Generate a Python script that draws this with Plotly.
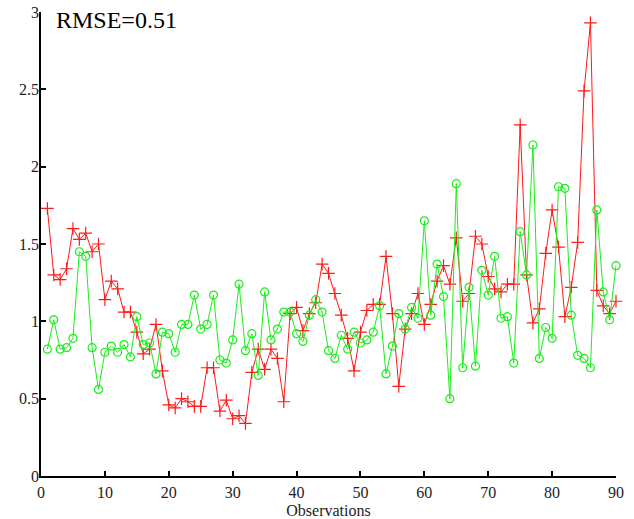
import plotly.graph_objects as go

observations = list(range(1, 91))

actual = [
    1.73, 1.30, 1.27, 1.34, 1.60, 1.53, 1.57, 1.45, 1.50, 1.14,
    1.26, 1.21, 1.06, 1.06, 0.93, 0.79, 0.82, 0.98, 0.68, 0.46,
    0.44, 0.50, 0.48, 0.45, 0.45, 0.70, 0.70, 0.42, 0.49, 0.37,
    0.39, 0.34, 0.67, 0.82, 0.69, 0.82, 0.76, 0.48, 1.05, 1.09,
    0.94, 1.05, 1.12, 1.37, 1.31, 1.18, 1.04, 0.89, 0.68, 0.93,
    1.07, 1.11, 1.11, 1.42, 1.05, 0.58, 0.95, 1.05, 1.18, 0.98,
    1.11, 1.26, 1.36, 1.24, 1.54, 1.13, 1.18, 1.55, 1.50, 1.29,
    1.21, 1.19, 1.24, 1.24, 2.27, 1.30, 0.99, 1.08, 1.44, 1.72,
    1.48, 1.03, 1.22, 1.51, 2.49, 2.93, 1.20, 1.10, 1.05, 1.13,
]

predicted = [
    0.82, 1.01, 0.82, 0.83, 0.89, 1.45, 1.42, 0.83, 0.56, 0.80,
    0.84, 0.80, 0.85, 0.77, 1.03, 0.85, 0.86, 0.66, 0.93, 0.92,
    0.80, 0.98, 0.98, 1.17, 0.95, 0.98, 1.17, 0.75, 0.73, 0.88,
    1.24, 0.81, 0.92, 0.65, 1.19, 0.88, 0.95, 1.06, 1.06, 0.92,
    0.87, 1.04, 1.14, 1.06, 0.81, 0.76, 0.91, 0.82, 0.93, 0.86,
    0.88, 0.93, 1.10, 0.66, 0.84, 1.05, 0.95, 1.09, 1.02, 1.65,
    1.04, 1.37, 1.16, 0.50, 1.89, 0.70, 1.22, 0.71, 1.33, 1.17,
    1.42, 1.02, 1.03, 0.73, 1.58, 1.30, 2.14, 0.76, 0.96, 0.89,
    1.87, 1.86, 1.04, 0.78, 0.76, 0.70, 1.72, 1.19, 1.01, 1.36,
]

x_ticks = [0, 10, 20, 30, 40, 50, 60, 70, 80, 90]
y_ticks = [0, 0.5, 1, 1.5, 2, 2.5, 3]
y_tick_labels = ["0", "0.5", "1", "1.5", "2", "2.5", "3"]
x_title = "Observations"
rmse_label = "RMSE=0.51"

FONT = "Liberation Serif"

fig = go.Figure()
fig.add_trace(go.Scatter(
    x=observations, y=actual, mode="lines+markers", cliponaxis=False,
    line=dict(color="#ff1a1a", width=1),
    marker=dict(symbol="cross-thin-open", size=9, color="#ff1a1a",
                line=dict(color="#ff1a1a", width=1.2)),
))
fig.add_trace(go.Scatter(
    x=observations, y=predicted, mode="lines+markers", cliponaxis=False,
    line=dict(color="#1aee1a", width=1),
    marker=dict(symbol="circle-open", size=8, color="#1aee1a",
                line=dict(color="#1aee1a", width=1.2)),
))

fig.update_layout(
    width=634, height=519,
    margin=dict(l=41, r=18, t=12, b=43),
    plot_bgcolor="white", paper_bgcolor="white",
    showlegend=False,
    font=dict(family=FONT, size=16, color="black"),
)
fig.update_xaxes(
    range=[0, 90], tickvals=x_ticks, ticks="inside", ticklen=5, tickwidth=1.5,
    tickcolor="black", showline=True, linecolor="black", linewidth=1.5,
    showgrid=False, zeroline=False, ticklabelstandoff=1, automargin=False,
    tickfont=dict(family=FONT, size=16, color="#222"),
    title=dict(text=x_title, standoff=8, font=dict(family=FONT, size=16, color="#222")),
)
fig.update_yaxes(
    range=[0, 3], tickvals=y_ticks, ticktext=y_tick_labels, ticks="inside",
    ticklen=5, tickwidth=1.5, tickcolor="black", showline=True,
    linecolor="black", linewidth=1.5, showgrid=False, zeroline=False,
    ticklabelstandoff=-3, automargin=False,
    tickfont=dict(family=FONT, size=16, color="#222"),
)
fig.add_annotation(
    text=rmse_label, xref="paper", yref="paper", x=0.022, y=0.982,
    xanchor="left", yanchor="middle", showarrow=False,
    font=dict(family=FONT, size=24, color="black"),
)

fig.write_html("out.html", config={"displayModeBar": False})
